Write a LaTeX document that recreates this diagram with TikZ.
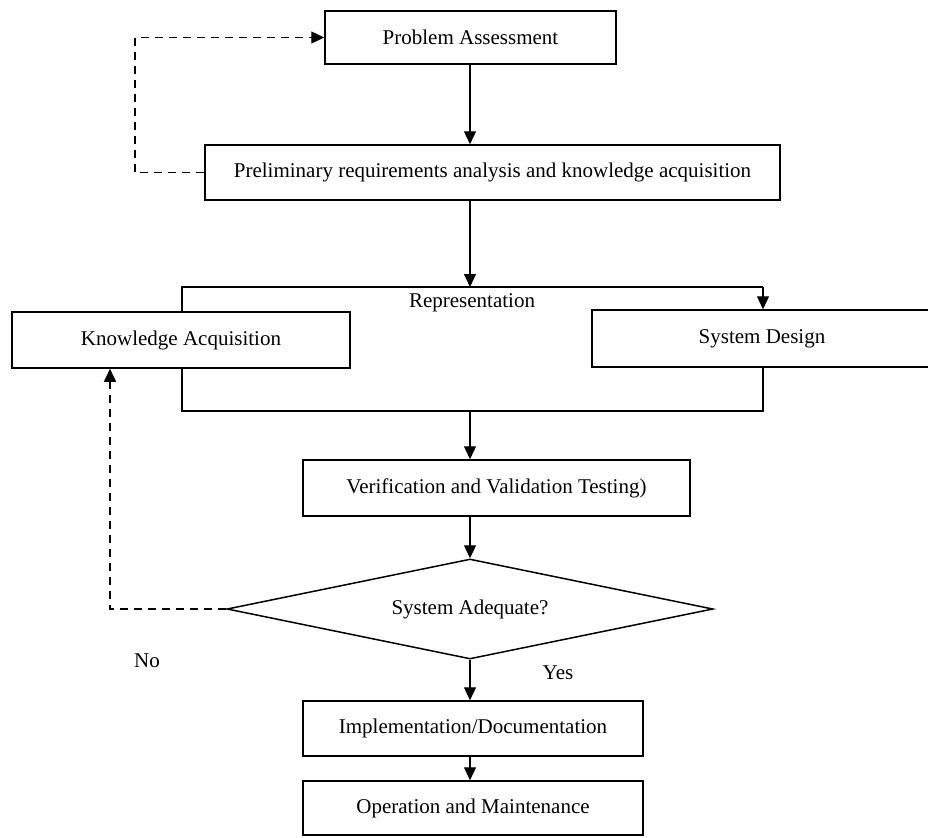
\documentclass[tikz,border=0pt]{standalone}
\usepackage{fontspec}
\setmainfont{Liberation Serif}
\usetikzlibrary{shapes.geometric,arrows.meta}
\begin{document}
\begin{tikzpicture}[x=0.5pt,y=-0.5pt,
  every node/.style={font=\fontsize{10.5pt}{12pt}\selectfont},
  stage/.style={draw,line width=0.75pt,inner sep=0pt},
  decision/.style={draw,line width=0.75pt,shape=diamond,aspect=4.86,inner sep=0pt,
    minimum width=243pt,minimum height=50pt},
  flow/.style={line width=0.6pt,-{Triangle[length=6.5pt,width=6pt]}},
  link/.style={line width=0.6pt},
  loop/.style={line width=0.6pt,dash pattern=on 4pt off 3pt},
  loopback/.style={loop,-{Triangle[length=6.5pt,width=6pt]}},
  caption/.style={inner sep=0pt}]
\useasboundingbox (0,0) rectangle (928,837);
\clip (0,0) rectangle (928,837);

% process stages
\node[stage,minimum width=145.5pt,minimum height=26.5pt] (pa) at (470.5,37.5) {Problem Assessment};
\node[stage,minimum width=287.5pt,minimum height=27.5pt] (pre) at (492.5,172.5) {Preliminary requirements analysis and knowledge acquisition};
\node[stage,minimum width=169pt,minimum height=28pt] (ka) at (181,340) {Knowledge Acquisition};
\node[stage,minimum width=170pt,minimum height=28.5pt] (sd) at (762,338.5) {System Design};
\node[stage,minimum width=193.5pt,minimum height=28pt] (vv) at (496.5,488) {Verification and Validation Testing)};
\node[decision] (dia) at (470,609) {System Adequate?};
\node[stage,minimum width=170pt,minimum height=27.5pt] (impl) at (473,728.5) {Implementation/Documentation};
\node[stage,minimum width=170pt,minimum height=27pt] (op) at (473,808) {Operation and Maintenance};

% labels
\node[caption] (rep) at (472,303) {Representation};
\node[caption] (no) at (147,661) {No};
\node[caption] (yes) at (558,673) {Yes};

% routing points
\coordinate (br) at (470,287);
\coordinate (bl) at (182,287);
\coordinate (brr) at (763,287);
\coordinate (jl) at (182,411);
\coordinate (jr) at (763,411);
\coordinate (jm) at (470,411);
\coordinate (d1) at (110,609);
\coordinate (d2) at (135,172.5);

% main flow
\draw[flow] (pa.south -| br) -- (pre.north -| br);
\draw[flow] (pre.south -| br) -- (br);
\draw[link] (ka.north -| bl) -- (bl) -- (brr);
\draw[flow] (brr) -- (sd.north -| brr);
\draw[link] (ka.south -| jl) -- (jl) -- (jr) -- (sd.south -| jr);
\draw[flow] (jm) -- (vv.north -| jm);
\draw[flow] (vv.south -| jm) -- (dia.north);
\draw[flow] (dia.south) -- (impl.north -| dia.south);
\draw[flow] (impl.south -| dia.south) -- (op.north -| dia.south);

% feedback loops
\draw[loopback] (dia.west) -- (d1) -- (ka.south -| d1);
\draw[loopback] (pre.west) -- (d2) -- (d2 |- pa.west) -- (pa.west);
\end{tikzpicture}
\end{document}
